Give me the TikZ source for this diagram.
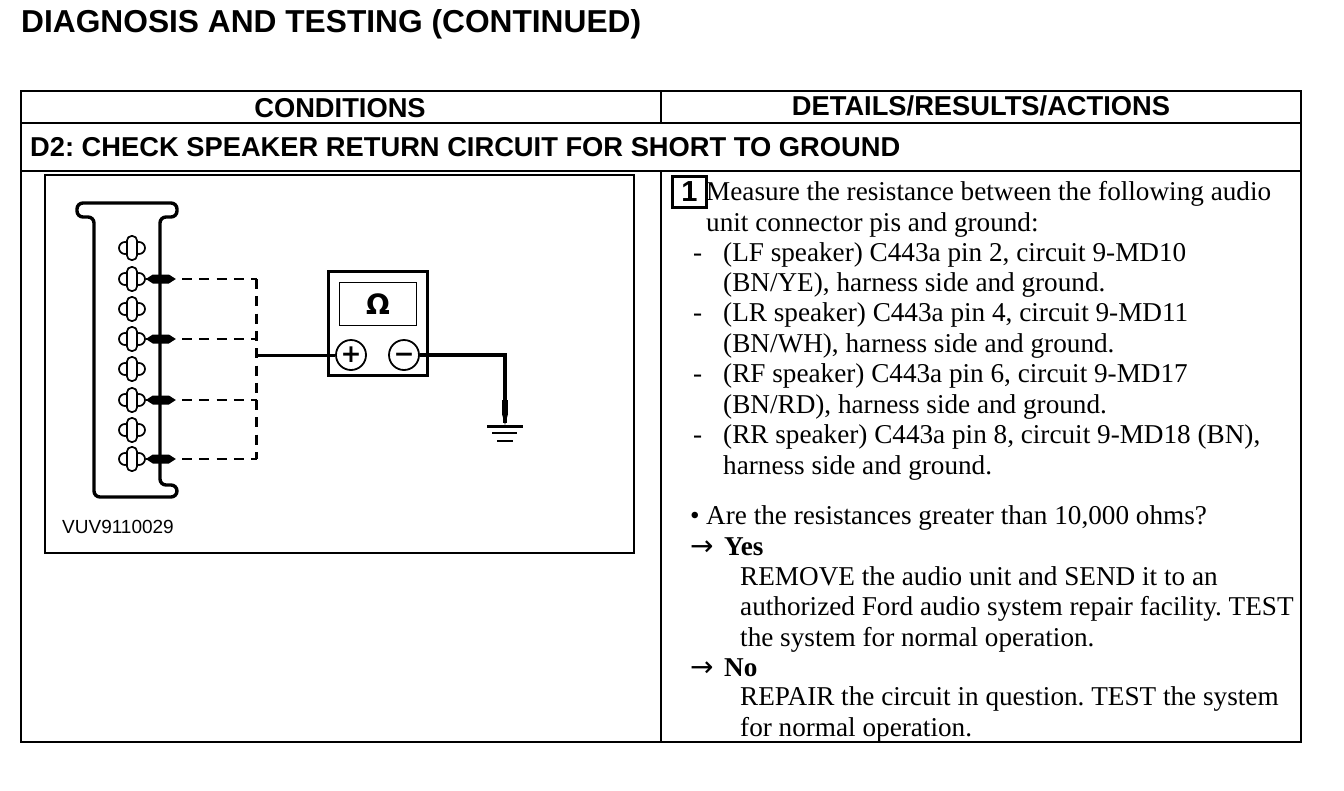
\documentclass[tikz,border=0pt]{standalone}
\usepackage{fontspec}
\setmainfont{Liberation Serif}
\newfontfamily\headfont{Liberation Sans}
\newfontfamily\symbfont{DejaVu Sans}
\usetikzlibrary{calc}
\usetikzlibrary{arrows}
\frenchspacing

\begin{document}
\begin{tikzpicture}[x=1pt,y=-1pt,
  line/.style={anchor=base west,inner sep=0pt,font=\fontsize{27.2}{29}\selectfont},
  head/.style={inner sep=0pt,font=\fontsize{27.3}{30}\selectfont\headfont\bfseries},
  frame/.style={line width=2.5pt},
  wire/.style={line width=3pt},
  dashwire/.style={line width=2.4pt,dash pattern=on 10pt off 7.3pt},
  pinbody/.style={draw=black,line width=1.7pt,fill=white,rounded corners=4.5pt,
    minimum width=10pt,minimum height=24pt,inner sep=0pt},
  pintab/.style={draw=black,line width=1.7pt,fill=white,circle,minimum size=12pt,inner sep=0pt},
  jack/.style={draw=black,line width=1.8pt,fill=white,circle,minimum size=30pt,inner sep=0pt}]
  \useasboundingbox (0,0) rectangle (1344,790);
  \fill[white] (0,0) rectangle (1344,790);
  % table
  \node[head,anchor=base west,font=\fontsize{31.7}{34}\selectfont\headfont\bfseries] (title) at (21,32) {DIAGNOSIS AND TESTING (CONTINUED)};
  \draw[frame] (21,91) rectangle (1301,742);
  \draw[frame] (21,123) -- (1301,123);
  \draw[frame] (21,171) -- (1301,171);
  \draw[frame] (661,91) -- (661,123);
  \draw[frame] (661,171) -- (661,742);
  \node[head] (cond) at (340,108) {CONDITIONS};
  \node[head] (dra) at (981,106) {DETAILS/RESULTS/ACTIONS};
  \node[head,anchor=base west] (d2) at (30,156) {D2: CHECK SPEAKER RETURN CIRCUIT FOR SHORT TO GROUND};
  % picture
  \draw[line width=1.8pt] (45,175) rectangle (634,553);
  \draw[line width=3.4pt,rounded corners=6pt] (94,217) -- (94,497) -- (177,497) -- (177,485) -- (160,485) -- (160,217)
    -- (177,217) -- (177,203) -- (77,203) -- (77,217) -- cycle;
  \foreach \n/\y in {1/248,2/279,3/309,4/339,5/369,6/400,7/430,8/459}{
    \node[pintab] (tl\n) at (125,\y) {};
    \node[pintab] (tr\n) at (139,\y) {};
    \node[pinbody] (pin\n) at (132,\y) {};
  }
  % meter
  \node[draw=black,line width=3pt,minimum width=99pt,minimum height=104pt,inner sep=0pt] (meter) at (378,323.5) {};
  \node[draw=black,line width=1.6pt,minimum width=77pt,minimum height=43pt,inner sep=0pt,
    font=\fontsize{28}{30}\selectfont\symbfont\bfseries] (ohm) at (378,304) {Ω};
  \node[jack,font=\fontsize{25}{25}\selectfont\symbfont\bfseries] (plus) at (351,355) {+};
  \node[jack,font=\fontsize{25}{25}\selectfont\symbfont\bfseries] (minus) at (404,355) {\vphantom{+}−};
  \coordinate (join) at (256.5,355);
  \coordinate (corner) at (256.5,459);
  \coordinate (top) at (256.5,279);
  \coordinate (gnd) at (505,423);
  \coordinate (gndtop) at (505,355);
  \foreach \n in {2,4,6,8}{
    \draw[line width=2pt] (tr\n.east) -- ++(8,0);
    \fill (tr\n.east) ++(0,0) -- ++(7,-4.5) -- ++(16,0) -- ++(7,4.5) -- ++(-7,4.5) -- ++(-16,0) -- cycle;
  }
  \draw[dashwire] (top) -- (corner);
  \foreach \n in {2,4,6,8}{
    \draw[dashwire] (pin\n -| 182,0) -- (pin\n -| join);
  }
  \draw[wire] (join) -- (plus);
  \draw[line width=3.4pt] (minus) -- (gndtop) -- (gnd);
  \draw[line width=6pt] (505,400) -- (505,414);
  \fill (502,414) -- (508,414) -- (505,425) -- cycle;
  \draw[line width=3pt] (487,426) -- (523,426);
  \draw[line width=2.6pt] (492,433) -- (517,433);
  \draw[line width=2.6pt] (497,441) -- (513,441);
  \node[inner sep=0pt,anchor=base west,font=\fontsize{19}{21}\selectfont\headfont] (code) at (62,533) {VUV9110029};
  % text column
  \node[draw=black,line width=2.4pt,minimum width=34pt,minimum height=31pt,inner sep=0pt,
    font=\fontsize{29}{30}\selectfont\headfont\bfseries] (step1) at (689.5,192) {1};
  \node[line] (l1) at (706,200) {Measure the resistance between the following audio};
  \node[line] (l2) at (706,231) {unit connector pis and ground:};
  \node[line] (d1) at (693,261) {-};
  \node[line] (l3) at (723,261) {(LF speaker) C443a pin 2, circuit 9-MD10};
  \node[line] (l4) at (723,291) {(BN/YE), harness side and ground.};
  \node[line] (d2) at (693,321) {-};
  \node[line] (l5) at (723,321) {(LR speaker) C443a pin 4, circuit 9-MD11};
  \node[line] (l6) at (723,352) {(BN/WH), harness side and ground.};
  \node[line] (d3) at (693,382) {-};
  \node[line] (l7) at (723,382) {(RF speaker) C443a pin 6, circuit 9-MD17};
  \node[line] (l8) at (723,413) {(BN/RD), harness side and ground.};
  \node[line] (d4) at (693,443) {-};
  \node[line] (l9) at (723,443) {(RR speaker) C443a pin 8, circuit 9-MD18 (BN),};
  \node[line] (l10) at (723,474) {harness side and ground.};
  \node[line] (l11) at (690,524) {\makebox[16pt][l]{•}Are the resistances greater than 10,000 ohms?};
  \node[line] (l12) at (690,555) {\makebox[34pt][l]{\symbfont\fontsize{28}{28}\selectfont →}\textbf{Yes}};
  \node[line] (l13) at (740,585) {REMOVE the audio unit and SEND it to an};
  \node[line] (l14) at (740,615) {authorized Ford audio system repair facility. TEST};
  \node[line] (l15) at (740,646) {the system for normal operation.};
  \node[line] (l16) at (690,676) {\makebox[34pt][l]{\symbfont\fontsize{28}{28}\selectfont →}\textbf{No}};
  \node[line] (l17) at (740,705) {REPAIR the circuit in question. TEST the system};
  \node[line] (l18) at (740,736) {for normal operation.};
\end{tikzpicture}
\end{document}
